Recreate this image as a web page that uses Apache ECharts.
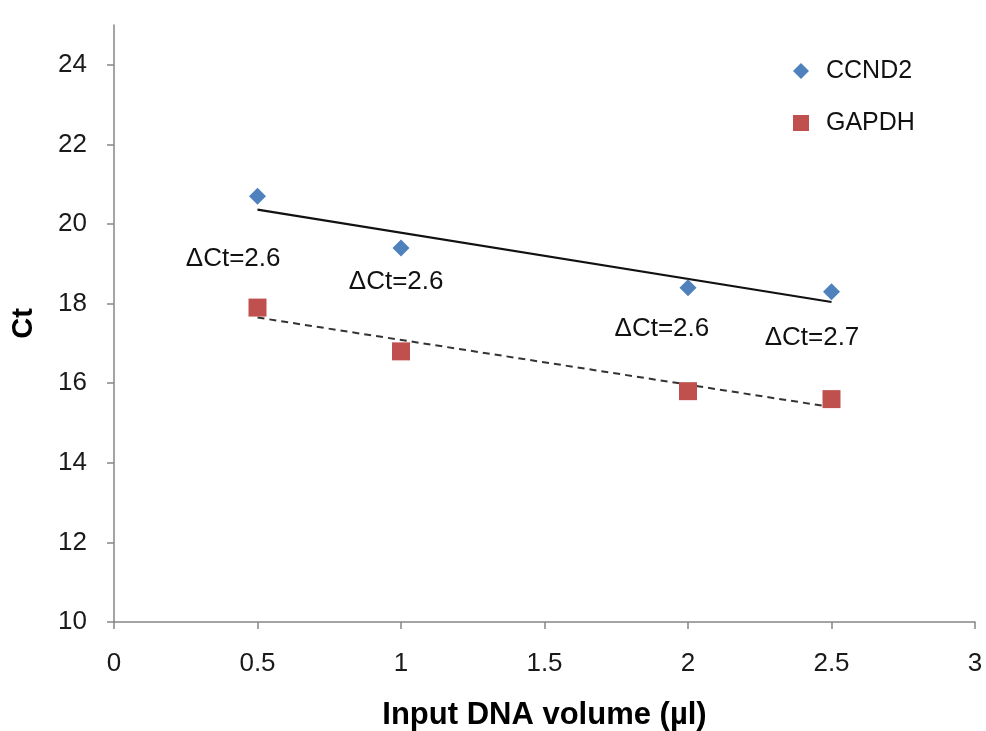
<!DOCTYPE html>
<html>
<head>
<meta charset="utf-8">
<script src="https://cdn.jsdelivr.net/npm/echarts@6/dist/echarts.min.js"></script>
<style>
html,body{margin:0;padding:0;background:#fff;}
#chart{width:986px;height:731px;}
</style>
</head>
<body>
<div id="chart"></div>
<script>
// Data
const xValues = [0.5, 1, 2, 2.5];
const ccnd2 = [20.7, 19.4, 18.4, 18.3];
const gapdh = [17.9, 16.8, 15.8, 15.6];
// Linear trend line end points (x, y)
const ccnd2TrendX = [0.5, 2.5];
const ccnd2TrendY = [20.36, 18.04];
const gapdhTrendX = [0.5, 2.5];
const gapdhTrendY = [17.65, 15.4];
// Annotation texts and their anchors (data units)
const deltaLabels = ['ΔCt=2.6', 'ΔCt=2.6', 'ΔCt=2.6', 'ΔCt=2.7'];
const deltaX = [0.415, 0.983, 1.909, 2.432];
const deltaY = [19.12, 18.54, 17.36, 17.14];
const yTicks = [10, 12, 14, 16, 18, 20, 22, 24];
const xTicks = [0, 0.5, 1, 1.5, 2, 2.5, 3];

const FONT = '"Liberation Sans", Arial, sans-serif';
const pair = (xs, ys) => xs.map((x, i) => [x, ys[i]]);

const chart = echarts.init(document.getElementById('chart'));
chart.setOption({
  animation: false,
  backgroundColor: '#fff',
  textStyle: { fontFamily: FONT },
  grid: { left: 114, right: 11, top: 25, bottom: 109, containLabel: false, outerBoundsMode: 'none' },
  legend: {
    orient: 'vertical',
    left: 788,
    top: 51,
    itemWidth: 16,
    itemHeight: 16,
    itemGap: 22,
    data: ['CCND2', 'GAPDH'],
    textStyle: { fontFamily: FONT, fontSize: 25, color: '#111', lineHeight: 30, padding: [0, 0, 0, 12] }
  },
  xAxis: {
    type: 'value',
    min: 0, max: 3, interval: 0.5,
    name: 'Input DNA volume (µl)',
    nameLocation: 'middle',
    nameGap: 78,
    nameTextStyle: { fontFamily: FONT, fontSize: 31, fontWeight: 'bold', color: '#000' },
    axisLine: { show: true, onZero: false, lineStyle: { color: '#868686', width: 1.5 } },
    axisTick: { show: true, inside: false, length: 7, lineStyle: { color: '#868686', width: 1.5 } },
    axisLabel: { fontFamily: FONT, fontSize: 26, color: '#1a1a1a', margin: 29, customValues: xTicks },
    splitLine: { show: false }
  },
  yAxis: {
    type: 'value',
    min: 10, max: 25, interval: 1,
    name: 'Ct',
    nameLocation: 'middle',
    nameRotate: 90,
    nameGap: 76,
    nameTextStyle: { fontFamily: FONT, fontSize: 29, fontWeight: 'bold', color: '#000' },
    axisLine: { show: true, onZero: false, lineStyle: { color: '#868686', width: 1.5 } },
    axisTick: { show: true, inside: false, length: 7, lineStyle: { color: '#868686', width: 1.5 }, customValues: yTicks },
    axisLabel: { fontFamily: FONT, fontSize: 26, color: '#1a1a1a', margin: 27, customValues: yTicks },
    splitLine: { show: false }
  },
  series: [
    {
      name: 'CCND2 trend',
      type: 'line',
      symbol: 'none',
      lineStyle: { color: '#111', width: 2.2 },
      data: pair(ccnd2TrendX, ccnd2TrendY),
      z: 3
    },
    {
      name: 'GAPDH trend',
      type: 'line',
      symbol: 'none',
      lineStyle: { color: '#333', width: 2, type: [7, 5] },
      data: pair(gapdhTrendX, gapdhTrendY),
      z: 3
    },
    {
      name: 'CCND2',
      type: 'scatter',
      symbol: 'diamond',
      symbolSize: 17,
      itemStyle: { color: '#4F81BD', opacity: 1 },
      data: pair(xValues, ccnd2),
      z: 5
    },
    {
      name: 'GAPDH',
      type: 'scatter',
      symbol: 'rect',
      symbolSize: 18,
      itemStyle: { color: '#C0504D', opacity: 1 },
      data: pair(xValues, gapdh),
      z: 5
    },
    {
      name: 'annotations',
      type: 'scatter',
      symbolSize: 0,
      silent: true,
      itemStyle: { opacity: 1 },
      data: deltaX.map((x, i) => ({ value: [x, deltaY[i]], label: { formatter: deltaLabels[i] } })),
      label: {
        show: true,
        position: 'inside',
        fontFamily: FONT,
        fontSize: 26,
        color: '#111',
        opacity: 1
      },
      z: 6
    }
  ]
});
</script>
</body>
</html>
